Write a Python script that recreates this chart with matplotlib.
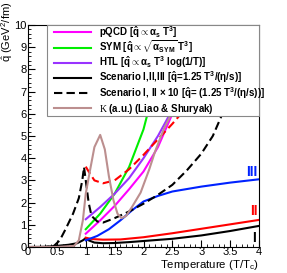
import matplotlib
matplotlib.use("Agg")
import matplotlib.pyplot as plt
from matplotlib.ticker import MultipleLocator
from matplotlib.patches import Rectangle

plt.rcParams['font.family'] = ['Liberation Sans', 'DejaVu Sans']
plt.rcParams['mathtext.fontset'] = 'custom'
plt.rcParams['mathtext.rm'] = 'Liberation Sans'
plt.rcParams['mathtext.it'] = 'Liberation Sans:italic'
plt.rcParams['mathtext.bf'] = 'Liberation Sans:bold'
plt.rcParams['mathtext.sf'] = 'Liberation Serif'

# ---- data ----
T_pqcd = [1.0, 1.25, 1.5, 1.75, 2.0, 2.25, 2.5, 2.7]
q_pqcd = [0.6, 1.2, 1.85, 2.6, 3.4, 4.5, 6.0, 7.2]

T_sym = [1.0, 1.25, 1.5, 1.75, 2.0, 2.1, 2.3]
q_sym = [0.8, 1.5, 2.4, 3.6, 5.3, 6.3, 7.8]

T_htl = [1.0, 1.25, 1.5, 1.75, 2.0, 2.25, 2.45, 2.7]
q_htl = [1.25, 1.8, 2.4, 3.1, 4.0, 5.0, 5.95, 7.1]

T_s1 = [0.05, 0.3, 0.5, 0.7, 0.85, 0.95, 1.0, 1.05, 1.15, 1.3, 1.5, 1.75, 2.0, 2.5, 3.0, 3.5, 4.0]
q_s1 = [0.0, 0.01, 0.05, 0.1, 0.17, 0.3, 0.4, 0.3, 0.2, 0.17, 0.18, 0.22, 0.27, 0.37, 0.52, 0.72, 0.95]

T_s2 = [1.0, 1.1, 1.3, 1.6, 2.0, 2.5, 3.0, 3.5, 4.0]
q_s2 = [0.42, 0.36, 0.33, 0.34, 0.44, 0.62, 0.82, 1.02, 1.22]

T_s3 = [1.0, 1.2, 1.4, 1.6, 1.8, 2.0, 2.25, 2.5, 3.0, 3.5, 4.0]
q_s3 = [0.3, 0.5, 0.8, 1.2, 1.65, 2.05, 2.3, 2.5, 2.72, 2.9, 3.05]

T_s1x10 = [0.0, 0.3, 0.45, 0.55, 0.65, 0.78, 0.88, 0.94, 0.97, 1.0, 1.05, 1.1, 1.2, 1.3, 1.5,
           1.75, 2.0, 2.25, 2.5, 2.75, 3.0, 3.2, 3.35, 3.5]
q_s1x10 = [0.0, 0.0, 0.05, 0.3, 0.8, 1.5, 2.2, 3.0, 3.6, 3.0, 2.0, 1.4, 1.15, 1.1, 1.3,
           1.6, 1.95, 2.35, 2.8, 3.45, 4.2, 5.0, 5.9, 6.9]

T_s2x10 = [1.0, 1.05, 1.15, 1.3, 1.5, 1.75, 2.0, 2.25, 2.5, 2.65, 2.8]
q_s2x10 = [3.62, 3.4, 3.0, 2.87, 3.0, 3.5, 4.15, 4.85, 5.55, 6.0, 6.5]

T_kappa = [0.0, 0.5, 0.8, 0.88, 0.95, 1.0, 1.07, 1.15, 1.25, 1.33, 1.4, 1.48, 1.55, 1.62,
           1.7, 1.8, 1.95, 2.1, 2.2, 2.35, 2.5, 2.6]
q_kappa = [0.0, 0.0, 0.05, 0.3, 1.2, 2.4, 3.4, 4.5, 5.05, 4.4, 3.2, 2.1, 1.5, 1.3,
           1.4, 1.8, 2.45, 3.5, 4.3, 5.3, 6.1, 6.6]

labels = [
    r"pQCD [$\mathbf{\hat{q}\propto\alpha_s}$ $\mathbf{T^3}$]",
    r"SYM [$\mathbf{\hat{q}\propto\sqrt{\alpha_{SYM}}}$ $\mathbf{T^3}$]",
    r"HTL [$\mathbf{\hat{q}\propto\alpha_s}$ $\mathbf{T^3}$ log(1/T)]",
    r"Scenario I,II,III [$\mathbf{\hat{q}}$=1.25 $\mathbf{T^3/(\eta/s)}$]",
    r"Scenario I, II $\mathbf{\times}$ 10 [$\mathbf{\hat{q}}$= (1.25 $\mathbf{T^3/(\eta/s))}$]",
    r"$\mathsf{K}$ (a.u.) (Liao & Shuryak)",
]
scen_labels = ["III", "II", "I"]

fig = plt.figure(figsize=(2.87, 2.73), dpi=100)
ax = fig.add_axes([28/287, 1-247/273, 231/287, 222/273])

lw = 1.5
dash = (4, 2)
styles = [
    dict(color='#ff00ff'),
    dict(color='#00ee00'),
    dict(color='#9933ff'),
    dict(color='black'),
    dict(color='black', dashes=dash),
    dict(color='#bc8f8f'),
]
ax.plot(T_pqcd, q_pqcd, lw=lw, **styles[0])
ax.plot(T_sym, q_sym, lw=lw, **styles[1])
ax.plot(T_htl, q_htl, lw=lw, **styles[2])
ax.plot(T_s1, q_s1, lw=lw, **styles[3])
ax.plot(T_s2, q_s2, color='#ff0000', lw=lw)
ax.plot(T_s3, q_s3, color='#0022ff', lw=lw)
ax.plot(T_s1x10, q_s1x10, lw=lw, **styles[4])
ax.plot(T_s2x10, q_s2x10, color='#ff0000', lw=lw, dashes=dash)
ax.plot(T_kappa, q_kappa, lw=lw, **styles[5])

ax.set_xlim(0, 4)
ax.set_ylim(0, 10)
ax.xaxis.set_minor_locator(MultipleLocator(0.1))
ax.yaxis.set_major_locator(MultipleLocator(1))
ax.yaxis.set_minor_locator(MultipleLocator(0.2))
ax.tick_params(which='both', direction='in', top=False, right=False, labelsize=8, pad=1.0)
ax.tick_params(axis='x', pad=0.3)
ax.tick_params(which='major', length=5, width=0.8)
ax.tick_params(which='minor', length=2.5, width=0.6)
ax.set_xticks([0, 0.5, 1, 1.5, 2, 2.5, 3, 3.5, 4])
ax.set_xticklabels(['0', '0.5', '1', '1.5', '2', '2.5', '3', '3.5', '4'])

ax.text(3.98, 3.38, scen_labels[0], color='#0022ff', fontsize=10, fontweight='bold', ha='right', va='center')
ax.text(3.98, 1.62, scen_labels[1], color='#ff0000', fontsize=10, fontweight='bold', ha='right', va='center')
ax.text(3.95, 0.42, scen_labels[2], color='black', fontsize=10, fontweight='bold', ha='right', va='center')

# ---- legend box drawn by hand (ROOT-style TLegend) ----
def fx(px):
    return (px - 28) / 231

def fy(py):
    return (247 - py) / 222

ax.add_patch(Rectangle((fx(46.7), fy(116)), 1 - fx(46.7), 1 - fy(116), transform=ax.transAxes,
                       facecolor='white', edgecolor='#888888', lw=0.8, zorder=10, clip_on=False))
row_px = [32.3, 47.7, 62.7, 77.7, 93.3, 108.3]
for rp, lab, st in zip(row_px, labels, styles):
    ax.plot([fx(54), fx(91)], [fy(rp), fy(rp)], transform=ax.transAxes, lw=lw, zorder=11,
            clip_on=False, **st)
    ax.text(fx(99), fy(rp + 3.3), lab, transform=ax.transAxes, fontsize=7, fontweight='bold',
            ha='left', va='baseline', zorder=12)

fig.text(259/287, 1-268.3/273, r"Temperature (T/T$_\mathregular{c}$)", ha='right', va='baseline', fontsize=8.2)
fig.text(7/287, 1-2/273, r"$\hat{\mathregular{q}}$ (GeV$^\mathregular{2}$/fm)", rotation=90, ha='center', va='top', fontsize=8)

fig.savefig('out.png', dpi=100)
